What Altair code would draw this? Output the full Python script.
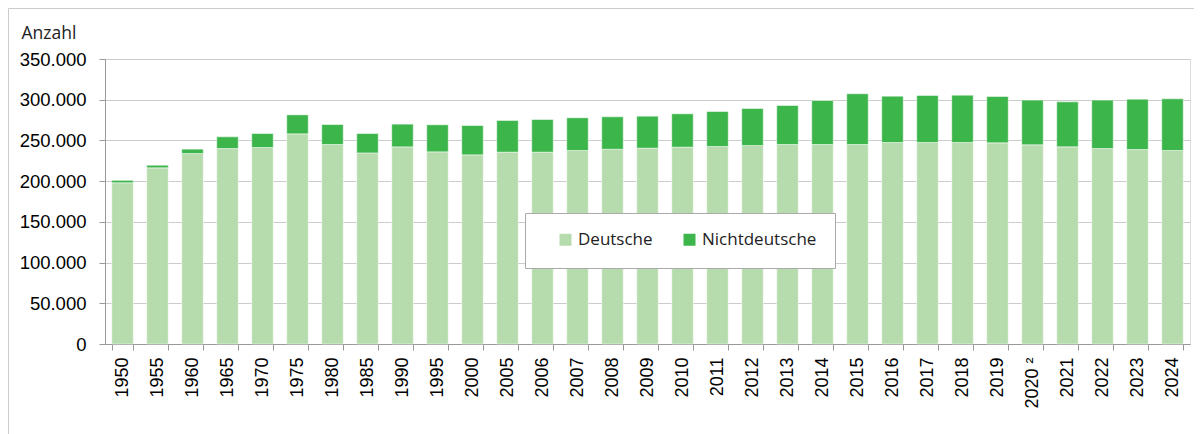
import altair as alt
import pandas as pd

years = ["1950", "1955", "1960", "1965", "1970", "1975", "1980", "1985", "1990", "1995",
         "2000", "2005", "2006", "2007", "2008", "2009", "2010", "2011", "2012", "2013",
         "2014", "2015", "2016", "2017", "2018", "2019", "2020 ²", "2021", "2022", "2023", "2024"]
deutsche = [198000, 216300, 233900, 240000, 241300, 258100, 245000, 234700, 242100, 236000,
            232300, 235600, 235600, 237600, 239200, 240500, 241700, 242500, 243700, 245000,
            245000, 245000, 247400, 247400, 247400, 247000, 244600, 242100, 240000, 238800, 237600]
nichtdeutsche = [3000, 3300, 5400, 14400, 17200, 23300, 24500, 23800, 27900, 33200,
                 36000, 38900, 40100, 40200, 39800, 39300, 41000, 43000, 45500, 47900,
                 54000, 62300, 57000, 57800, 58200, 57000, 54900, 55300, 59500, 61900, 63500]
series = ["Deutsche", "Nichtdeutsche"]
colors = ["#b6dcad", "#3cb54a"]
y_ticks = [0, 50000, 100000, 150000, 200000, 250000, 300000, 350000]

rows = []
for y, d, n in zip(years, deutsche, nichtdeutsche):
    rows.append({"Jahr": y, "Gruppe": series[0], "Anzahl": d, "ord": 0})
    rows.append({"Jahr": y, "Gruppe": series[1], "Anzahl": n, "ord": 1})
df = pd.DataFrame(rows)

FONT = "Open Sans"
TXT = "#222222"

bars = alt.Chart(df).mark_bar(stroke="white", strokeWidth=1, strokeOpacity=0.5).encode(
    x=alt.X("Jahr:N", sort=years,
            scale=alt.Scale(paddingInner=0.385, paddingOuter=0.1925),
            axis=alt.Axis(title=None, labelAngle=-90, labelAlign="right", labelBaseline="middle",
                          labelPadding=7, tickBand="extent", tickSize=6, tickColor="#999999",
                          domainColor="#999999", grid=False, labelFontSize=18)),
    y=alt.Y("Anzahl:Q", stack="zero",
            scale=alt.Scale(domain=[0, 350000], nice=False),
            axis=alt.Axis(values=y_ticks, title="Anzahl", titleAngle=0, titleAlign="left",
                          titleBaseline="alphabetic", titleX=-84, titleY=-21,
                          titleFontWeight="normal", titleFontSize=17.5, titleColor=TXT,
                          titleFont=FONT,
                          labelExpr="replace(format(datum.value, ','), regexp(',', 'g'), '.')",
                          labelPadding=13, tickSize=6, tickColor="#999999", domainColor="#999999",
                          gridColor="#cccccc", labelFontSize=18.5)),
    color=alt.Color("Gruppe:N", scale=alt.Scale(domain=series, range=colors),
                    legend=alt.Legend(title=None, orient="none", legendX=452, legendY=172,
                                      direction="horizontal", symbolType="square", symbolSize=144,
                                      symbolStrokeWidth=0, labelOffset=4, columnPadding=28,
                                      padding=0, labelFontSize=17, labelFont=FONT,
                                      labelColor=TXT)),
    order=alt.Order("ord:Q"),
)

one = pd.DataFrame({"a": [0]})
box = alt.Chart(one).mark_rect(fill="white", stroke="#aaaaaa", strokeWidth=1).encode(
    x=alt.value(420.5), x2=alt.value(730.5), y=alt.value(154.5), y2=alt.value(209.5))
frame_top = alt.Chart(one).mark_rule(color="#cccccc", strokeWidth=1).encode(
    x=alt.value(-96.5), x2=alt.value(1200), y=alt.value(-50.5))
frame_left = alt.Chart(one).mark_rule(color="#cccccc", strokeWidth=1).encode(
    x=alt.value(-96.5), y=alt.value(-50.5), y2=alt.value(420))

chart = alt.layer(bars, box, frame_top, frame_left).properties(
    width=1085, height=285,
    autosize=alt.AutoSizeParams(type="none"),
    padding={"left": 97, "top": 51, "right": 4, "bottom": 90},
).configure_view(stroke=None).configure_axis(
    labelFont=FONT, labelColor=TXT, titleFont=FONT
).configure(background="white")

chart.save("out.html", embed_options={"renderer": "svg", "actions": False})
